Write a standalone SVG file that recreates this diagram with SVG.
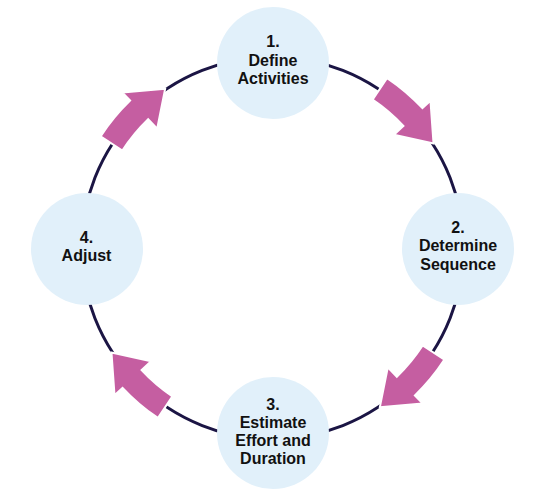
<svg xmlns="http://www.w3.org/2000/svg" width="544" height="502" viewBox="0 0 544 502">
  <style>
    .node { fill: #e1f0fa; }
    .label { font-family: "Liberation Sans", Arial, sans-serif; font-weight: bold; font-size: 16px; fill: #111111; text-anchor: middle; }
    .ring { fill: none; stroke: #1b1544; stroke-width: 3; }
    .arrow { fill: #c55ea1; stroke: #ffffff; stroke-width: 2; stroke-linejoin: miter; }
  </style>
  <defs>
    <path id="curvedArrow" d="M 175.41,-35.69 L 200.88,-40.87 A 205 205 0 0 1 204.93,5.37 L 215.93,5.65 L 188.14,38.28 L 165.94,4.35 L 178.94,4.69 A 179 179 0 0 0 175.41,-35.69 Z"/>
  </defs>
  <rect width="544" height="502" fill="#ffffff"/>
  <g id="connectors">
    <circle class="ring" cx="272.5" cy="248" r="191"/>
    <use href="#curvedArrow" class="arrow" transform="translate(272.5,248) rotate(-44.5)"/>
    <use href="#curvedArrow" class="arrow" transform="translate(272.5,248) rotate(44.5)"/>
    <use href="#curvedArrow" class="arrow" transform="translate(272.5,248) rotate(135.5)"/>
    <use href="#curvedArrow" class="arrow" transform="translate(272.5,248) rotate(224.5)"/>
  </g>
  <g id="node1">
    <circle class="node" cx="273" cy="63" r="56"/>
    <text class="label" x="273" y="47">1.</text>
    <text class="label" x="273" y="65.5">Define</text>
    <text class="label" x="273" y="84">Activities</text>
  </g>
  <g id="node2">
    <circle class="node" cx="458" cy="249" r="56"/>
    <text class="label" x="458" y="233">2.</text>
    <text class="label" x="458" y="251">Determine</text>
    <text class="label" x="458" y="269.5">Sequence</text>
  </g>
  <g id="node3">
    <circle class="node" cx="273" cy="433" r="56"/>
    <text class="label" x="273" y="409.5">3.</text>
    <text class="label" x="273" y="427.5">Estimate</text>
    <text class="label" x="273" y="445.5">Effort and</text>
    <text class="label" x="273" y="463.5">Duration</text>
  </g>
  <g id="node4">
    <circle class="node" cx="87" cy="249" r="56"/>
    <text class="label" x="86.5" y="243">4.</text>
    <text class="label" x="86.5" y="261">Adjust</text>
  </g>
</svg>
